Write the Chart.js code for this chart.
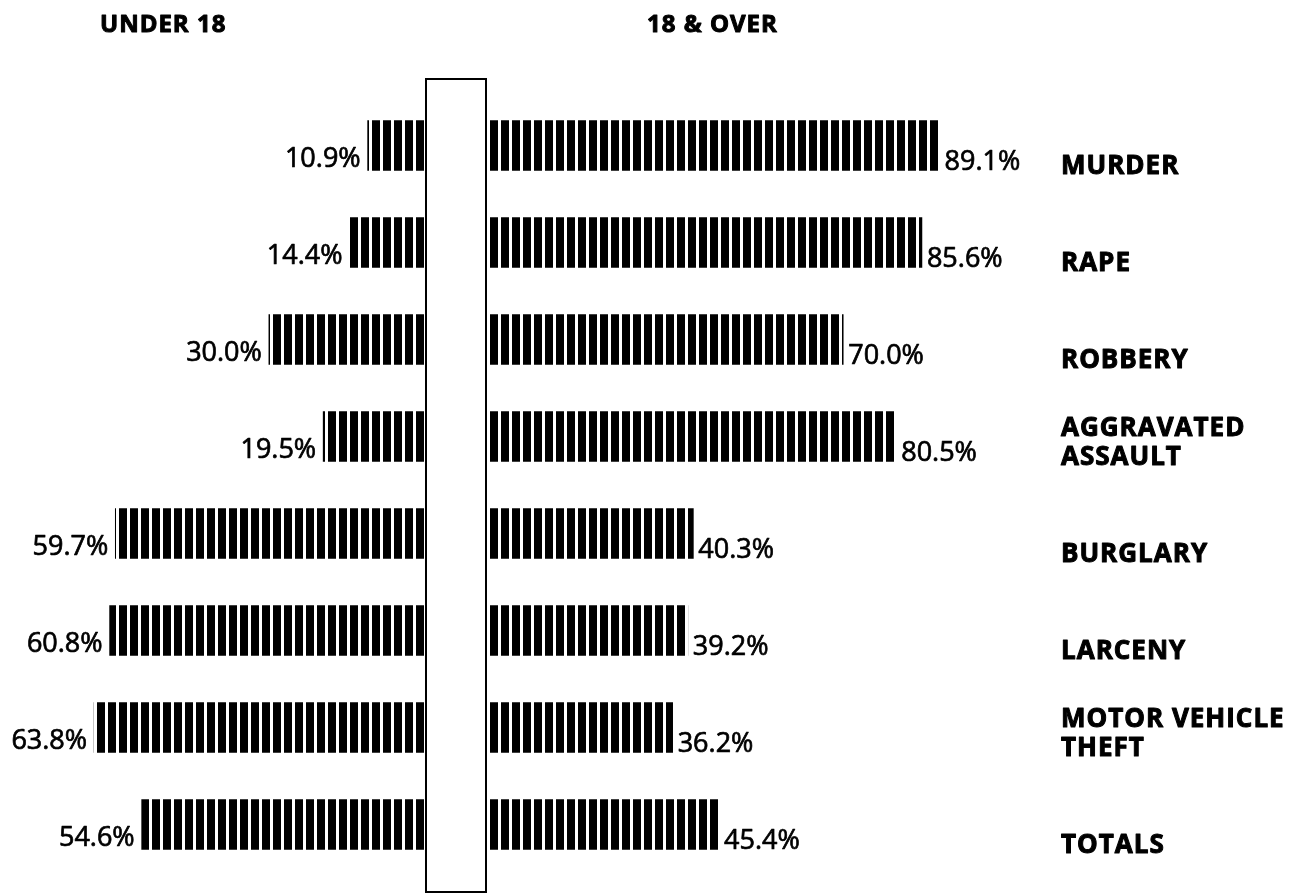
<!DOCTYPE html>
<html>
<head>
<meta charset="utf-8">
<title>Arrests by age group</title>
<script src="https://cdn.jsdelivr.net/npm/chart.js@4.4.1/dist/chart.umd.min.js"></script>
<style>
  body { margin: 0; background: #fff; overflow: hidden; }
  #wrap { position: relative; width: 1303px; height: 896px; }
  #wrap canvas { position: absolute; left: 0; top: 0; }
  #spine { position: absolute; left: 425px; top: 78px; width: 62px; height: 815px;
           box-sizing: border-box; border: 2px solid #000; }
</style>
</head>
<body>
<div id="wrap">
  <div id="spine"></div>
  <canvas id="underChart" width="1303" height="896"></canvas>
  <canvas id="overChart" width="1303" height="896"></canvas>
</div>
<script>
const crimes = ['MURDER', 'RAPE', 'ROBBERY', ['AGGRAVATED', 'ASSAULT'], 'BURGLARY', 'LARCENY', ['MOTOR VEHICLE', 'THEFT'], 'TOTALS'];
const under18 = [10.9, 14.4, 30.0, 19.5, 59.7, 60.8, 63.8, 54.6];
const over18 = [89.1, 85.6, 70.0, 80.5, 40.3, 39.2, 36.2, 45.4];
const headers = ['UNDER 18', '18 & OVER'];

// vertical bar-code stripes used as bar fill
function stripes() {
  const c = document.createElement('canvas');
  c.width = 11; c.height = 4;
  const g = c.getContext('2d');
  g.fillStyle = '#000';
  g.fillRect(0, 0, 8, 4);
  return g.createPattern(c, 'repeat');
}

// fill + thin stroke, the scan's type is heavier than the plain faces
function heavyText(ctx, txt, x, y, w) {
  ctx.lineWidth = w;
  ctx.strokeText(txt, x, y);
  ctx.fillText(txt, x, y);
}

// side: 'left' (under 18) or 'right' (18 & over)
function labelPlugin(side) {
  return {
    id: 'labels_' + side,
    beforeDatasetsDraw(chart) {
      const base = chart.scales.x.getPixelForValue(0);
      const pat = chart.data.datasets[0].backgroundColor;
      const shift = side === 'left' ? base - 8 : base;
      pat.setTransform(new DOMMatrix([1, 0, 0, 1, shift, 0]));
    },
    afterDatasetsDraw(chart) {
      const ctx = chart.ctx;
      const meta = chart.getDatasetMeta(0);
      const values = chart.data.datasets[0].data;
      ctx.save();
      ctx.fillStyle = '#000';
      ctx.strokeStyle = '#000';
      ctx.lineJoin = 'round';
      ctx.textBaseline = 'alphabetic';
      meta.data.forEach((bar, i) => {
        const p = bar.getProps(['x', 'y', 'height'], true);
        const bottom = p.y + p.height / 2;
        ctx.font = '27px "Open Sans"';
        ctx.letterSpacing = '0px';
        const txt = values[i].toFixed(1) + '%';
        if (side === 'left') {
          ctx.textAlign = 'right';
          heavyText(ctx, txt, p.x - 7, bottom - 4, 0.7);
        } else {
          ctx.textAlign = 'left';
          heavyText(ctx, txt, p.x + 5, bottom - 1, 0.7);
          // category names at the far right
          const lines = [].concat(chart.data.labels[i]);
          ctx.font = 'bold 26px "Open Sans"';
          ctx.letterSpacing = '1px';
          lines.forEach((ln, k) => {
            heavyText(ctx, ln, 1061, bottom + 3 - (lines.length - 1 - k) * 29, 1);
          });
        }
      });
      if (side === 'right') {
        ctx.font = 'bold 24px "Open Sans"';
        ctx.letterSpacing = '1px';
        ctx.textAlign = 'left';
        heavyText(ctx, headers[0], 100, 32, 1);
        heavyText(ctx, headers[1], 647, 32, 1);
      }
      ctx.restore();
    }
  };
}

function makeChart(id, values, side) {
  const left = side === 'left';
  return new Chart(document.getElementById(id), {
    type: 'bar',
    data: {
      labels: crimes,
      datasets: [{ data: values, backgroundColor: stripes(), barThickness: 50 }]
    },
    options: {
      indexAxis: 'y',
      responsive: false,
      animation: false,
      layout: { padding: left ? { top: 97, bottom: 23, left: 0, right: 879 }
                              : { top: 97, bottom: 23, left: 490, right: 263 } },
      scales: {
        x: { display: false, reverse: left, min: 0, max: left ? 82 : 109 },
        y: { display: false }
      },
      plugins: { legend: { display: false }, tooltip: { enabled: false } }
    },
    plugins: [labelPlugin(side)]
  });
}

makeChart('underChart', under18, 'left');
makeChart('overChart', over18, 'right');
</script>
</body>
</html>
